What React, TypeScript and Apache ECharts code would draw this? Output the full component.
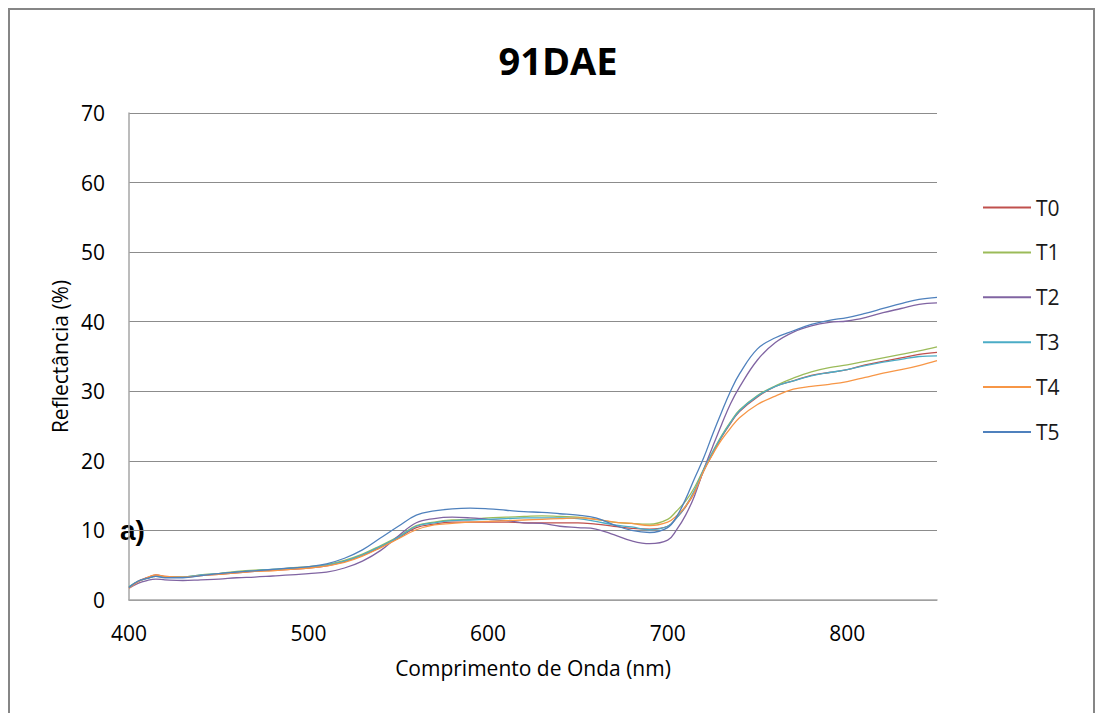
import React, { useEffect, useRef } from "react";
import * as echarts from "echarts";

const wavelengths = [400,405,410,415,420,430,440,450,460,470,480,490,500,510,520,530,540,550,560,570,580,590,600,610,620,630,640,650,660,670,680,690,700,705,710,715,720,725,730,735,740,750,760,770,780,790,800,810,820,830,840,850];

const T0 = [1.8,2.7,3.2,3.6,3.4,3.3,3.5,3.7,3.9,4.1,4.3,4.4,4.6,4.9,5.5,6.4,7.6,8.9,10.4,10.9,11.2,11.2,11.2,11.2,11.1,11.1,11.1,11.1,10.9,10.6,10.3,10.2,10.6,11.8,13.4,15.5,18.5,21.0,23.4,25.4,27.1,29.2,30.7,31.5,32.3,32.7,33.1,33.8,34.3,34.8,35.3,35.6];
const T1 = [1.9,2.7,3.1,3.4,3.3,3.3,3.6,3.8,4.1,4.3,4.4,4.6,4.8,5.1,5.7,6.6,7.8,9.1,10.7,11.2,11.5,11.6,11.8,11.9,12.0,12.1,12.0,11.9,11.6,11.2,11.0,10.9,11.6,12.8,14.2,16.2,18.8,21.3,23.6,25.6,27.3,29.4,30.8,31.9,32.8,33.4,33.8,34.3,34.8,35.3,35.8,36.4];
const T2 = [1.7,2.4,2.8,3.0,2.9,2.8,2.9,3.0,3.2,3.3,3.45,3.6,3.8,4.0,4.6,5.6,7.1,9.2,11.1,11.7,11.9,11.8,11.6,11.4,11.1,11.0,10.6,10.4,10.2,9.4,8.5,8.1,8.6,10.1,12.2,15.0,18.7,22.0,25.2,28.2,30.6,34.5,37.0,38.5,39.4,39.9,40.1,40.6,41.3,41.9,42.5,42.7];
const T3 = [1.9,2.7,3.1,3.4,3.3,3.3,3.6,3.8,4.0,4.2,4.4,4.5,4.7,5.0,5.6,6.5,7.7,9.0,10.6,11.1,11.4,11.5,11.6,11.7,11.8,11.8,11.8,11.7,11.3,10.8,10.5,10.1,10.6,11.8,13.5,15.8,18.7,21.2,23.5,25.5,27.2,29.3,30.7,31.5,32.2,32.7,33.1,33.7,34.2,34.6,35.0,35.1];
const T4 = [1.7,2.6,3.2,3.6,3.4,3.3,3.5,3.7,3.9,4.1,4.2,4.4,4.6,4.9,5.4,6.3,7.5,8.8,10.1,10.8,11.0,11.2,11.3,11.4,11.5,11.6,11.7,11.8,11.6,11.2,11.0,10.7,11.2,12.1,13.5,15.5,18.5,20.9,23.0,24.7,26.2,28.1,29.3,30.3,30.7,31.0,31.4,32.0,32.6,33.1,33.7,34.4];
const T5 = [1.8,2.7,3.1,3.4,3.2,3.2,3.5,3.8,4.0,4.2,4.4,4.6,4.8,5.2,6.0,7.2,8.9,10.6,12.2,12.8,13.1,13.2,13.1,12.9,12.7,12.6,12.4,12.2,11.8,10.8,10.0,9.7,10.4,12.0,14.5,17.5,20.4,23.8,27.0,30.0,32.5,36.1,37.7,38.7,39.6,40.2,40.6,41.2,41.9,42.6,43.2,43.5];

const seriesNames = ["T0", "T1", "T2", "T3", "T4", "T5"];
const seriesValues = [T0, T1, T2, T3, T4, T5];
const seriesColors = ["#C0504D", "#9BBB59", "#8064A2", "#4BACC6", "#F79646", "#4F81BD"];

const FONT = "'Open Sans', 'Noto Sans', sans-serif";

export default function App() {
  const ref = useRef<HTMLDivElement>(null);
  useEffect(() => {
    document.body.style.margin = "0";
    document.body.style.overflow = "hidden";
    const chart = echarts.init(ref.current!, null, { renderer: "svg" });
    chart.setOption({
      animation: false,
      backgroundColor: "#ffffff",
      title: {
        text: "91DAE",
        left: 553,
        top: 36,
        textAlign: "center",
        textStyle: { fontFamily: FONT, fontSize: 38, fontWeight: "bold", color: "#000" },
      },
      legend: {
        orient: "vertical",
        left: 978,
        top: 192,
        icon: "rect",
        itemWidth: 48,
        itemHeight: 2,
        itemGap: 23.9,
        textStyle: { fontFamily: FONT, fontSize: 21, color: "#1a1a1a", padding: [0, 0, 0, 0] },
        data: seriesNames,
      },
      grid: { left: 129, right: 159, top: 113, bottom: 113, containLabel: false },
      xAxis: {
        type: "value",
        min: 400,
        max: 850,
        interval: 100,
        name: "Comprimento de Onda (nm)",
        nameLocation: "middle",
        nameGap: 57,
        nameTextStyle: { fontFamily: FONT, fontSize: 21, color: "#000" },
        axisLine: { show: true, lineStyle: { color: "#A6A6A6", width: 1.5 } },
        axisTick: { show: false },
        splitLine: { show: false },
        axisLabel: { fontFamily: FONT, fontSize: 21, color: "#000", margin: 22, showMaxLabel: false },
      },
      yAxis: {
        type: "value",
        min: 0,
        max: 70,
        interval: 10,
        name: "Reflectância (%)",
        nameLocation: "middle",
        nameGap: 58,
        nameTextStyle: { fontFamily: FONT, fontSize: 21, color: "#000" },
        axisLine: { show: true, lineStyle: { color: "#A6A6A6", width: 1.5 } },
        axisTick: { show: false },
        splitLine: { show: true, lineStyle: { color: "#8C8C8C", width: 1.2 } },
        axisLabel: { fontFamily: FONT, fontSize: 21, color: "#000", margin: 24 },
      },
      graphic: [
        {
          type: "rect",
          silent: true,
          shape: { x: 9, y: 9, width: 1085, height: 720 },
          style: { fill: "none", stroke: "#868686", lineWidth: 2 },
        },
        {
          type: "text",
          left: 120,
          top: 516,
          style: { text: "a)", fontFamily: "'Liberation Sans', Arial, sans-serif", fontSize: 28, fontWeight: "bold", fill: "#000" },
        },
      ],
      series: seriesNames.map((name, i) => ({
        name,
        type: "line",
        smooth: 0.4,
        symbol: "none",
        data: wavelengths.map((w, j) => [w, seriesValues[i][j]]),
        lineStyle: { color: seriesColors[i], width: 1.3 },
        itemStyle: { color: seriesColors[i] },
      })),
    });
    return () => chart.dispose();
  }, []);
  return <div ref={ref} style={{ width: 1096, height: 713 }} />;
}
